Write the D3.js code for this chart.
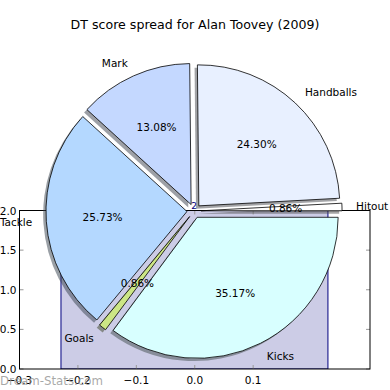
<!DOCTYPE html>
<html>
<head>
<meta charset="utf-8">
<script src="https://cdn.jsdelivr.net/npm/d3@7"></script>
<style>
  body { margin: 0; background: #fff; }
  svg { display: block; font-family: "DejaVu Sans", sans-serif; }
</style>
</head>
<body>
<div id="chart"></div>
<script>
// pie data (matplotlib order, counter-clockwise from 3 o'clock)
var categories = ["Hitout", "Handballs", "Mark", "Tackle", "Goals", "Kicks"];
var shares = [0.86, 24.30, 13.08, 25.73, 0.86, 35.17];
var fills = ["#ffffff", "#e8f0ff", "#c4d8ff", "#b4d8ff", "#cce685", "#d8ffff"];

// leftover background axes
var xTicks = [-0.3, -0.2, -0.1, 0.0, 0.1];
var yTicks = [0.0, 0.5, 1.0, 1.5, 2.0];
var barSpan = [-0.229, 0.228];
var barHeight = 2.0;

var width = 390, height = 390;
var svg = d3.select("#chart").append("svg")
  .attr("width", width)
  .attr("height", height);

// ---- background axes ----
var ax = { left: 19.5, right: 370, top: 210.5, bottom: 369 };
var x = d3.scaleLinear().domain([-0.3, 0.3]).range([ax.left, ax.right]);
var y = d3.scaleLinear().domain([0, 2]).range([ax.bottom, ax.top]);

svg.append("clipPath").attr("id", "axClip")
  .append("rect")
  .attr("x", ax.left).attr("y", ax.top)
  .attr("width", ax.right - ax.left).attr("height", ax.bottom - ax.top);

svg.append("rect")
  .attr("x", ax.left).attr("y", ax.top)
  .attr("width", ax.right - ax.left).attr("height", ax.bottom - ax.top)
  .attr("fill", "#fff");

svg.append("rect")
  .attr("clip-path", "url(#axClip)")
  .attr("x", x(barSpan[0]))
  .attr("y", y(barHeight))
  .attr("width", x(barSpan[1]) - x(barSpan[0]))
  .attr("height", y(0) - y(barHeight))
  .attr("fill", "#000080").attr("fill-opacity", 0.2)
  .attr("stroke", "#000080").attr("stroke-width", 1);

var tickCol = "#999";
var tickLen = 4;
xTicks.forEach(function(t) {
  svg.append("line").attr("x1", x(t)).attr("x2", x(t))
    .attr("y1", ax.bottom).attr("y2", ax.bottom - tickLen).attr("stroke", tickCol);
  svg.append("line").attr("x1", x(t)).attr("x2", x(t))
    .attr("y1", ax.top).attr("y2", ax.top + tickLen).attr("stroke", tickCol);
  svg.append("text")
    .attr("x", x(t)).attr("y", ax.bottom + 15)
    .attr("text-anchor", "middle")
    .attr("font-size", 10.5).attr("fill", "#000")
    .text(d3.format(".1f")(t).replace("-", "\u2212"));
});
yTicks.forEach(function(t) {
  svg.append("line").attr("x1", ax.left).attr("x2", ax.left + tickLen)
    .attr("y1", y(t)).attr("y2", y(t)).attr("stroke", tickCol);
  svg.append("line").attr("x1", ax.right).attr("x2", ax.right - tickLen)
    .attr("y1", y(t)).attr("y2", y(t)).attr("stroke", tickCol);
  svg.append("text")
    .attr("x", ax.left - 3).attr("y", y(t) + 4)
    .attr("text-anchor", "end")
    .attr("font-size", 10.5).attr("fill", "#000")
    .text(d3.format(".1f")(t));
});

svg.append("rect")
  .attr("x", ax.left).attr("y", ax.top)
  .attr("width", ax.right - ax.left).attr("height", ax.bottom - ax.top)
  .attr("fill", "none").attr("stroke", "#000").attr("stroke-width", 1);

svg.append("text")
  .attr("x", 194).attr("y", 209)
  .attr("text-anchor", "middle")
  .attr("font-size", 9).attr("fill", "#000080")
  .text("2");

// ---- pie ----
var cx = 194, cy = 211, radius = 141;
var explode = 0.05;

var pie = d3.pie().sort(null)
  .startAngle(Math.PI / 2)
  .endAngle(Math.PI / 2 - 2 * Math.PI);
var arcs = pie(shares);
var arc = d3.arc().innerRadius(0).outerRadius(radius);

function offset(d, dist) {
  var mid = (d.startAngle + d.endAngle) / 2;
  return [Math.sin(mid) * dist, -Math.cos(mid) * dist];
}

var pieG = svg.append("g").attr("transform", `translate(${cx},${cy})`);

// shadows below every wedge
pieG.selectAll(".shadow").data(arcs).enter()
  .append("path")
  .attr("class", "shadow")
  .attr("d", arc)
  .attr("transform", function(d) {
    var o = offset(d, explode * radius);
    return `translate(${o[0] - 0.02 * radius},${o[1] + 0.02 * radius})`;
  })
  .attr("fill", function(d, i) {
    var c = d3.rgb(fills[i]);
    return d3.rgb(c.r * 0.3, c.g * 0.3, c.b * 0.3);
  })
  .attr("fill-opacity", 0.5);

pieG.selectAll(".wedge").data(arcs).enter()
  .append("path")
  .attr("class", "wedge")
  .attr("d", arc)
  .attr("transform", function(d) {
    var o = offset(d, explode * radius);
    return `translate(${o[0]},${o[1]})`;
  })
  .attr("fill", function(d, i) { return fills[i]; })
  .attr("stroke", "#000")
  .attr("stroke-width", 0.8)
  .attr("stroke-linejoin", "round");

// category labels
pieG.selectAll(".label").data(arcs).enter()
  .append("text")
  .attr("class", "label")
  .attr("x", function(d) { return offset(d, (1.1 + explode) * radius)[0]; })
  .attr("y", function(d) { return offset(d, (1.1 + explode) * radius)[1]; })
  .attr("dy", "0.35em")
  .attr("text-anchor", function(d) {
    return offset(d, 1)[0] > 0 ? "start" : "end";
  })
  .attr("font-size", 10.5)
  .text(function(d, i) { return categories[i]; });

// percentages
pieG.selectAll(".pct").data(arcs).enter()
  .append("text")
  .attr("class", "pct")
  .attr("x", function(d) { return offset(d, (0.6 + explode) * radius)[0]; })
  .attr("y", function(d) { return offset(d, (0.6 + explode) * radius)[1]; })
  .attr("dy", "0.35em")
  .attr("text-anchor", "middle")
  .attr("font-size", 10.5)
  .text(function(d) { return d3.format(".2f")(d.value) + "%"; });

// title
svg.append("text")
  .attr("x", 195).attr("y", 29)
  .attr("text-anchor", "middle")
  .attr("font-size", 12.6)
  .text("DT score spread for Alan Toovey (2009)");

// watermark
svg.append("text")
  .attr("x", 0).attr("y", 385)
  .attr("font-size", 11.8)
  .attr("fill", "#999")
  .attr("fill-opacity", 0.85)
  .text("Dream-Stats.com");
</script>
</body>
</html>
